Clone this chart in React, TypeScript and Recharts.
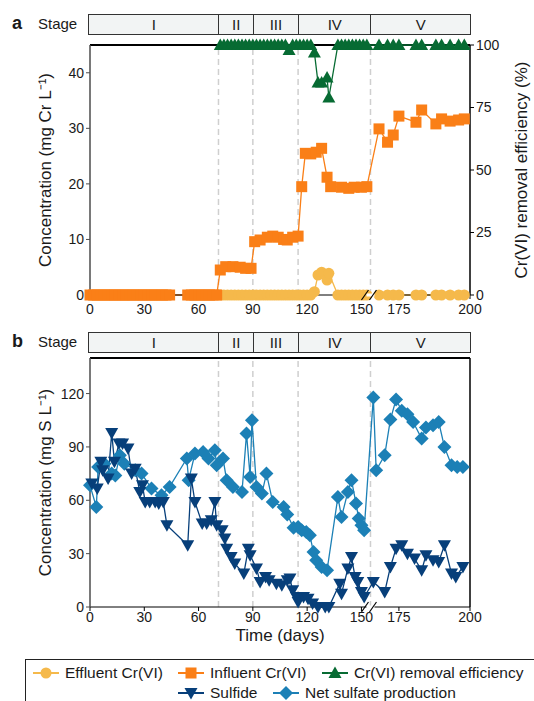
import { Line, LineChart, ReferenceDot, ReferenceLine, XAxis, YAxis } from "recharts";

const FONT = "'Liberation Sans', Arial, Helvetica, sans-serif";
const INK = "#1a1a1a";

const C_EFFLUENT = "#F5B94B";
const C_INFLUENT = "#FA7F17";
const C_REMOVAL = "#076B33";
const C_SULFIDE = "#073F7A";
const C_SULFATE = "#1C80B6";

// Broken time axis: days 0–155 drawn 1:1, then a gap, and days 165–200 stretched
// so stage V gets some room. A "//" on the axis marks the break.
const BREAK_DAY = 155;
const RESUME_DAY = 165;
const LATE_STRETCH = 55 / 35;
const AXIS_END = 210;
const toAxis = (day: number) => (day <= BREAK_DAY ? day : BREAK_DAY + (day - RESUME_DAY) * LATE_STRETCH);

const timeTicks = [0, 30, 60, 90, 120, 150, 175, 200];
const stageNames = ["I", "II", "III", "IV", "V"];
const stageStarts = [0, 71, 90, 115, 165];
const lastDay = 200;

// ---- panel a: Cr(VI) ----
const influentDays = [
  0, 2, 4, 6, 8, 10, 12, 14, 16, 18, 20, 22, 24, 26, 28, 30, 32, 34, 36, 38, 40, 42, 44,
  54, 56, 58, 60, 62, 64, 66, 68, 70,
  72, 75, 79, 83, 86, 89,
  91, 94, 98, 101, 104, 107, 109, 112, 115,
  117, 119, 122, 125, 128, 131, 133, 139, 143, 146, 150, 153,
  168, 171, 173, 175, 181, 183, 188, 190, 193, 196, 198,
];
const influentCr = [
  0, 0, 0, 0, 0, 0, 0, 0, 0, 0, 0, 0, 0, 0, 0, 0, 0, 0, 0, 0, 0, 0, 0,
  0, 0, 0, 0, 0, 0, 0, 0, 0,
  4.5, 5.1, 5.1, 5.0, 4.8, 4.8,
  9.6, 9.9, 10.4, 10.6, 10.4, 10.0, 9.9, 10.4, 10.6,
  19.5, 25.5, 25.4, 25.7, 26.4, 21.2, 19.5, 19.4, 19.2, 19.4, 19.4, 19.5,
  29.9, 27.5, 28.8, 32.2, 31.1, 33.3, 30.8, 31.7, 31.3, 31.5, 31.7,
];

const crSampleDays = [
  72, 74, 76, 78, 80, 82, 84, 86, 88, 90, 92, 94, 96, 98, 100, 102, 104, 106, 108, 110, 112, 114,
  116, 118, 120, 122, 124, 126, 128, 131, 132, 137, 139, 141, 143, 145, 147, 149, 151, 153,
  168, 171, 173, 175, 181, 183, 188, 190, 193, 196, 198,
];
const effluentCr = [
  0, 0, 0, 0, 0, 0, 0, 0, 0, 0, 0, 0, 0, 0, 0, 0, 0, 0, 0, 0, 0, 0,
  0, 0, 0, 0, 0.6, 3.6, 4.1, 2.7, 3.9, 0, 0, 0, 0, 0, 0, 0, 0, 0,
  0, 0, 0, 0, 0, 0, 0, 0, 0, 0, 0,
];
const removalEff = [
  100, 100, 100, 100, 100, 100, 100, 100, 100, 100, 100, 100, 100, 100, 100, 100, 100, 100, 100, 98, 100, 100,
  100, 100, 100, 100, 97, 85, 85, 87, 79, 100, 100, 100, 100, 100, 100, 100, 100, 100,
  100, 100, 100, 100, 100, 100, 100, 100, 100, 100, 100,
];

// ---- panel b: sulfur ----
const sulfideDays = [
  1, 4, 6, 7, 10, 12, 13.5, 16, 18, 21, 23, 25, 27.5, 29, 30.5, 33, 36, 38, 40.5, 42.5,
  54, 56, 58, 62, 64.5, 67, 69, 70, 73, 74.5, 75.5, 78, 80, 85, 87.5, 88.5,
  92, 94, 97, 99, 103, 106, 109, 110.5, 112, 114, 115,
  118, 120.5, 123, 126, 130, 132, 138, 139, 142.5, 144.5, 146.5, 148, 150, 151.5,
  166, 170, 172, 174, 176, 178, 180.5, 183, 184.5, 187, 189, 191, 193.5, 195, 197.5,
];
const sulfide = [
  69.4, 66.6, 81.6, 76.9, 72.2, 97.9, 81.6, 91.9, 91.9, 89.1, 75, 77.8, 64.7, 68.4, 59, 59, 59, 58.2, 59, 46,
  34.7, 72.2, 59, 46.9, 46.9, 48.8, 59, 46, 43.1, 38.5, 32.8, 28.1, 24.4, 18.8, 32.8, 29.1,
  21.6, 14.1, 16.9, 15, 13.1, 12.2, 15, 16, 9.4, 5.6, 2.8,
  5.6, 4.7, 1.9, 0, 0, 0, 13.1, 7.5, 21.6, 28.1, 16.9, 14.1, 8.4, 5.6,
  14.1, 8.4, 22.5, 32.8, 34.7, 30, 27.2, 20.6, 29.1, 26.3, 25.3, 34.7, 18.8, 16.9, 22.5,
];

const sulfateDays = [
  0, 3.5, 4.5, 8, 12, 14, 16.5, 19, 25, 28.5, 34, 39.5, 44,
  53.5, 54.5, 58, 62.5, 65.5, 69, 70,
  73.5, 75.5, 79, 84, 86.5, 88.5, 89.5,
  92, 95, 97.5, 101, 107, 109, 112.5, 115,
  117, 119.5, 121.5, 123.5, 125, 128, 131,
  137, 139, 142.5, 144.5, 147, 148.5, 150, 151.5,
  166, 167, 170, 172, 174, 176, 178, 180, 183, 184.5, 187, 189, 191, 193.5, 195.5, 197.5,
];
const netSulfate = [
  68.4, 56.2, 78.7, 80.6, 75, 74, 85.3, 80.6, 76.9, 75, 66.6, 62.8, 67.5,
  83.5, 71.3, 86.3, 87.2, 83.5, 88.1, 79.7,
  83.5, 71.3, 67.5, 64.7, 97.5, 73.1, 105,
  67.5, 63.8, 75, 59, 56.2, 52, 44.5, 45,
  43.1, 42.2, 40.3, 30.9, 26.3, 22.5, 20.6,
  61.9, 50.6, 64.7, 71.3, 58.2, 49.7, 46, 43.1,
  117.8, 76.9, 85.3, 105.4, 116.6, 110.3, 108.4, 104, 94.7, 100.9, 102.2, 104, 90, 79.7, 78.7, 78.7,
];

const series = (days: number[], vals: number[]) => days.map((d, i) => ({ x: toAxis(d), y: vals[i] }));

const tickPositions = timeTicks.map(toAxis);
const tickLabel = (v: number) => {
  const i = tickPositions.findIndex((p) => Math.abs(p - v) < 1e-6);
  return i >= 0 ? String(timeTicks[i]) : "";
};

// marker shapes (ggplot 16 / 15 / 17 / 25 / 18)
const circleDot = (color: string) => (p: any) => <circle key={p.index} cx={p.cx} cy={p.cy} r={5.5} fill={color} />;
const squareDot = (color: string) => (p: any) => (
  <rect key={p.index} x={p.cx - 5.5} y={p.cy - 5.5} width={11} height={11} fill={color} />
);
const triUpDot = (color: string) => (p: any) => (
  <path key={p.index} d={`M${p.cx},${p.cy - 6.5}L${p.cx + 6.5},${p.cy + 5}L${p.cx - 6.5},${p.cy + 5}Z`} fill={color} />
);
const triDownDot = (color: string) => (p: any) => (
  <path key={p.index} d={`M${p.cx - 6.5},${p.cy - 5}L${p.cx + 6.5},${p.cy - 5}L${p.cx},${p.cy + 6.5}Z`} fill={color} />
);
const diamondDot = (color: string) => (p: any) => (
  <path key={p.index} d={`M${p.cx},${p.cy - 7}L${p.cx + 7},${p.cy}L${p.cx},${p.cy + 7}L${p.cx - 7},${p.cy}Z`} fill={color} />
);

const BreakMark = (p: any) => (
  <g>
    <rect x={p.cx - 4} y={p.cy - 1.5} width={8} height={3} fill="#fff" />
    <line x1={p.cx - 9} y1={p.cy + 5} x2={p.cx - 2} y2={p.cy - 5} stroke="#000" strokeWidth={1.2} />
    <line x1={p.cx - 1} y1={p.cy + 5} x2={p.cx + 6} y2={p.cy - 5} stroke="#000" strokeWidth={1.2} />
  </g>
);

const PLOT_L = 90;
const PLOT_R = 470;
const toPx = (day: number) => PLOT_L + (toAxis(day) / AXIS_END) * (PLOT_R - PLOT_L);

const tickStyle = { fontSize: 14, fill: INK, fontFamily: FONT };
const titleStyle = { textAnchor: "middle" as const, fontSize: 17, fill: INK, fontFamily: FONT };

function StageBar({ top, tag }: { top: number; tag: string }) {
  const edges = [...stageStarts.map(toPx), toPx(lastDay)];
  edges[0] = 88;
  return (
    <>
      <div style={{ position: "absolute", left: 12, top: top - 1, fontSize: 18, fontWeight: "bold", fontFamily: FONT }}>{tag}</div>
      <div style={{ position: "absolute", left: 38, top: top + 1, fontSize: 15, fontFamily: FONT }}>Stage</div>
      {stageNames.map((name, i) => (
        <div
          key={name}
          style={{
            position: "absolute",
            left: edges[i],
            top,
            width: edges[i + 1] - edges[i] + 1,
            height: 21,
            boxSizing: "border-box",
            border: "1px solid #333",
            background: "#f2f4f4",
            display: "flex",
            alignItems: "center",
            justifyContent: "center",
            fontSize: 15,
            fontFamily: FONT,
          }}
        >
          {name}
        </div>
      ))}
    </>
  );
}

function StageLines({ yAxisId }: { yAxisId?: string }) {
  return (
    <>
      {stageStarts.slice(1).map((d) => (
        <ReferenceLine
          key={d}
          x={toAxis(d)}
          yAxisId={yAxisId}
          stroke="#cfcfcf"
          strokeWidth={1.5}
          strokeDasharray="6 4"
        />
      ))}
    </>
  );
}

function LegendIcon({ color, shape }: { color: string; shape: (c: string) => (p: any) => any }) {
  return (
    <svg width={26} height={14} style={{ display: "block" }}>
      <line x1={0} y1={7} x2={26} y2={7} stroke={color} strokeWidth={2} />
      {shape(color)({ cx: 13, cy: 7, index: 0 })}
    </svg>
  );
}

const legendItems = [
  { label: "Effluent Cr(VI)", color: C_EFFLUENT, shape: circleDot, left: 33, top: 665 },
  { label: "Influent Cr(VI)", color: C_INFLUENT, shape: squareDot, left: 178, top: 665 },
  { label: "Cr(VI) removal efficiency", color: C_REMOVAL, shape: triUpDot, left: 322, top: 665 },
  { label: "Sulfide", color: C_SULFIDE, shape: triDownDot, left: 178, top: 685 },
  { label: "Net sulfate production", color: C_SULFATE, shape: diamondDot, left: 273, top: 685 },
];

export default function App() {
  return (
    <div style={{ position: "absolute", left: 0, top: 0, width: 534, height: 701, overflow: "hidden", background: "#fff", fontFamily: FONT, color: INK }}>
      <StageBar top={14} tag="a" />
      <div style={{ position: "absolute", left: 0, top: 0 }}>
        <LineChart width={534} height={330} margin={{ top: 45, right: 0, bottom: 0, left: 0 }}>
          <StageLines yAxisId="conc" />
          <XAxis
            type="number"
            dataKey="x"
            domain={[0, AXIS_END]}
            ticks={tickPositions}
            interval={0}
            tickFormatter={tickLabel}
            height={35}
            tick={tickStyle}
            tickSize={4}
            tickMargin={5}
            axisLine={{ stroke: "#000" }}
            tickLine={{ stroke: "#000" }}
          />
          <YAxis
            yAxisId="conc"
            domain={[0, 45]}
            ticks={[0, 10, 20, 30, 40]}
            width={90}
            tick={tickStyle}
            tickSize={4}
            tickMargin={2}
            axisLine={{ stroke: "#4d4d4d", strokeWidth: 1.5 }}
            tickLine={{ stroke: "#4d4d4d" }}
            label={{ value: "Concentration (mg Cr L⁻¹)", angle: -90, position: "insideLeft", offset: 45, style: titleStyle }}
          />
          <YAxis
            yAxisId="eff"
            orientation="right"
            domain={[0, 100]}
            ticks={[0, 25, 50, 75, 100]}
            width={64}
            tick={tickStyle}
            tickSize={4}
            tickMargin={2}
            axisLine={{ stroke: "#000", strokeWidth: 1.5 }}
            tickLine={{ stroke: "#000" }}
            label={{ value: "Cr(VI) removal efficiency (%)", angle: -90, position: "insideRight", offset: 13, style: titleStyle }}
          />
          <ReferenceLine y={45} yAxisId="conc" stroke="#000" strokeWidth={2} />
          <Line
            yAxisId="conc"
            data={series(crSampleDays, effluentCr)}
            dataKey="y"
            stroke={C_EFFLUENT}
            strokeWidth={1.3}
            dot={circleDot(C_EFFLUENT)}
            activeDot={false}
            isAnimationActive={false}
          />
          <Line
            yAxisId="conc"
            data={series(influentDays, influentCr)}
            dataKey="y"
            stroke={C_INFLUENT}
            strokeWidth={1.3}
            dot={squareDot(C_INFLUENT)}
            activeDot={false}
            isAnimationActive={false}
          />
          <Line
            yAxisId="eff"
            data={series(crSampleDays, removalEff)}
            dataKey="y"
            stroke={C_REMOVAL}
            strokeWidth={1.3}
            dot={triUpDot(C_REMOVAL)}
            activeDot={false}
            isAnimationActive={false}
          />
          <ReferenceDot x={BREAK_DAY} y={0} yAxisId="conc" ifOverflow="visible" shape={BreakMark} />
        </LineChart>
      </div>

      <StageBar top={332} tag="b" />
      <div style={{ position: "absolute", left: 0, top: 330 }}>
        <LineChart width={534} height={320} margin={{ top: 28, right: 64, bottom: 0, left: 0 }}>
          <StageLines />
          <XAxis
            type="number"
            dataKey="x"
            domain={[0, AXIS_END]}
            ticks={tickPositions}
            interval={0}
            tickFormatter={tickLabel}
            height={43}
            tick={tickStyle}
            tickSize={4}
            tickMargin={1}
            axisLine={{ stroke: "#000" }}
            tickLine={{ stroke: "#000" }}
            label={{ value: "Time (days)", position: "insideBottom", offset: 9, style: titleStyle }}
          />
          <YAxis
            domain={[0, 140]}
            ticks={[0, 30, 60, 90, 120]}
            width={90}
            tick={tickStyle}
            tickSize={4}
            tickMargin={2}
            axisLine={{ stroke: "#4d4d4d", strokeWidth: 1.5 }}
            tickLine={{ stroke: "#4d4d4d" }}
            label={{ value: "Concentration (mg S L⁻¹)", angle: -90, position: "insideLeft", offset: 45, style: titleStyle }}
          />
          <ReferenceLine y={140} stroke="#000" strokeWidth={2} />
          <ReferenceLine x={AXIS_END} stroke="#000" strokeWidth={1.5} />
          <Line
            data={series(sulfateDays, netSulfate)}
            dataKey="y"
            stroke={C_SULFATE}
            strokeWidth={1.3}
            dot={diamondDot(C_SULFATE)}
            activeDot={false}
            isAnimationActive={false}
          />
          <Line
            data={series(sulfideDays, sulfide)}
            dataKey="y"
            stroke={C_SULFIDE}
            strokeWidth={1.3}
            dot={triDownDot(C_SULFIDE)}
            activeDot={false}
            isAnimationActive={false}
          />
          <ReferenceDot x={BREAK_DAY} y={0} ifOverflow="visible" shape={BreakMark} />
        </LineChart>
      </div>

      <div style={{ position: "absolute", left: 25, top: 659, width: 540, height: 60, border: "1px solid #222", boxSizing: "border-box" }} />
      {legendItems.map((it) => (
        <div key={it.label} style={{ position: "absolute", left: it.left, top: it.top, display: "flex", alignItems: "center", gap: 6, fontSize: 15.5, lineHeight: "15px", whiteSpace: "nowrap" }}>
          <LegendIcon color={it.color} shape={it.shape} />
          <span>{it.label}</span>
        </div>
      ))}
    </div>
  );
}
